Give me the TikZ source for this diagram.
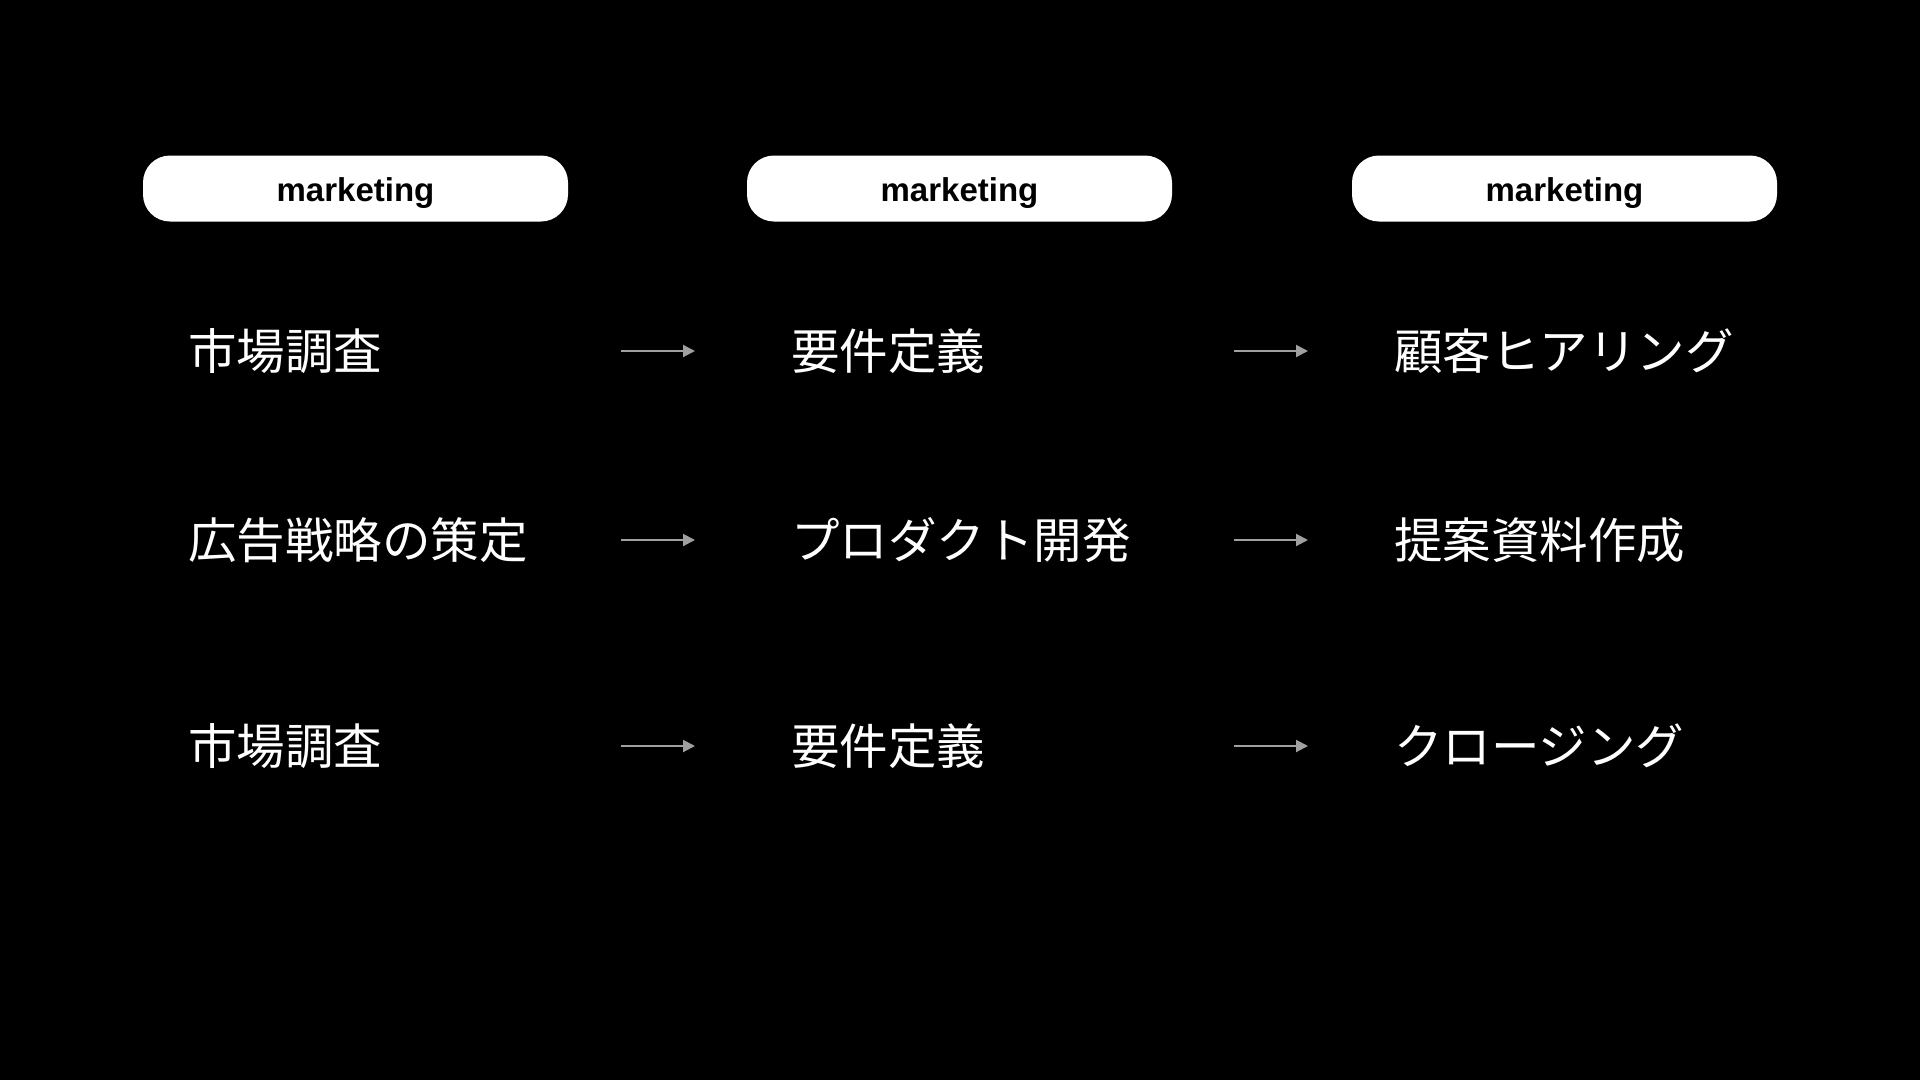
\documentclass[tikz,border=0pt]{standalone}
\usepackage{fontspec}
\setmainfont{Liberation Sans}
\newfontfamily\jpfont{Noto Sans CJK JP}
\usetikzlibrary{arrows.meta}
\definecolor{arrowgray}{RGB}{160,160,160}
\begin{document}
\begin{tikzpicture}[x=1pt,y=-1pt,
  pill/.style={fill=white,rounded corners=27pt,minimum width=425pt,minimum height=66pt,
    inner sep=0pt,text height=32pt,text depth=7pt,text=black,
    font=\fontsize{33}{39}\selectfont\bfseries},
  item/.style={anchor=base west,inner sep=0pt,text=white,
    font=\jpfont\fontsize{48.5}{58}\selectfont},
  flow/.style={draw=arrowgray,line width=2pt,-{Triangle[length=12pt,width=12pt]}}]
\fill[black] (0,0) rectangle (1920,1080);
\useasboundingbox (0,0) rectangle (1920,1080);

% column headers
\node[pill] (h1) at (355.5,188.5) {marketing};
\node[pill] (h2) at (959.5,188.5) {marketing};
\node[pill] (h3) at (1564.5,188.5) {marketing};

% first column
\node[item] (a1) at (188,369) {市場調査};
\node[item] (a2) at (188,558) {広告戦略の策定};
\node[item] (a3) at (188,764) {市場調査};

% second column
\node[item] (b1) at (791,369) {要件定義};
\node[item] (b2) at (791,558) {プロダクト開発};
\node[item] (b3) at (791,764) {要件定義};

% third column
\node[item] (c1) at (1394,369) {顧客ヒアリング};
\node[item] (c2) at (1394,558) {提案資料作成};
\node[item] (c3) at (1394,764) {クロージング};

% arrow end points between columns
\coordinate (s11) at (621,351);  \coordinate (e11) at (695,351);
\coordinate (s12) at (621,540);  \coordinate (e12) at (695,540);
\coordinate (s13) at (621,746);  \coordinate (e13) at (695,746);
\coordinate (s21) at (1234,351); \coordinate (e21) at (1308,351);
\coordinate (s22) at (1234,540); \coordinate (e22) at (1308,540);
\coordinate (s23) at (1234,746); \coordinate (e23) at (1308,746);

\foreach \c in {1,2}{
  \foreach \r in {1,2,3}{
    \draw[flow] (s\c\r) -- (e\c\r);
  }
}
\end{tikzpicture}
\end{document}
